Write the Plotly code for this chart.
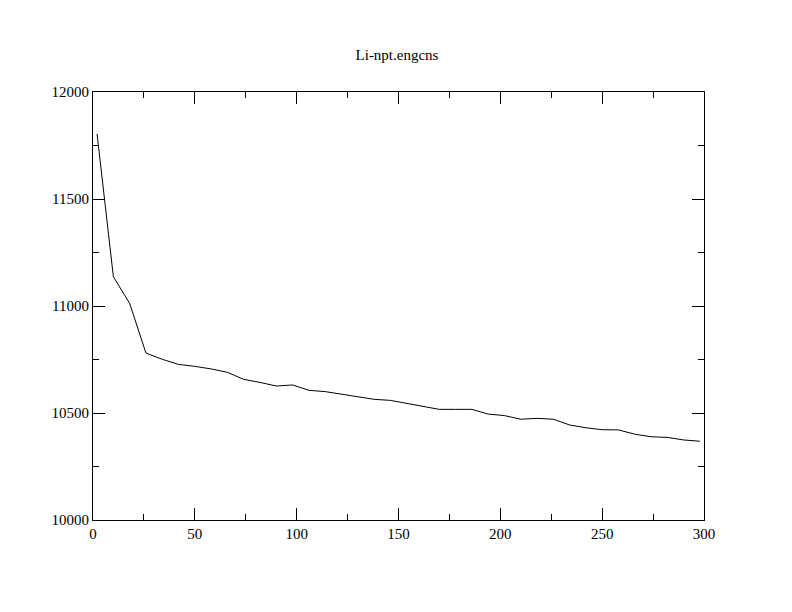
import plotly.graph_objects as go

x_vals = [2, 10, 18, 26, 34, 42, 50, 58, 66, 74, 82, 90, 98, 106, 114, 122, 130, 138, 146,
          154, 162, 170, 178, 186, 194, 202, 210, 218, 226, 234, 242, 250, 258, 266, 274,
          282, 290, 298]
y_vals = [11804, 11137, 11012, 10780, 10751, 10727, 10718, 10706, 10690, 10657, 10643,
          10626, 10631, 10606, 10600, 10589, 10577, 10564, 10559, 10544, 10529, 10517,
          10517, 10517, 10495, 10488, 10471, 10475, 10471, 10444, 10431, 10422, 10421,
          10401, 10389, 10386, 10374, 10368]
title_text = "Li-npt.engcns"

font_family = "Times New Roman"

fig = go.Figure()
fig.add_trace(go.Scatter(x=x_vals, y=y_vals, mode="lines",
                         line=dict(color="black", width=1), showlegend=False))

axis_common = dict(
    showline=True, linecolor="black", linewidth=1, mirror="allticks",
    ticks="inside", ticklen=12, tickwidth=1, tickcolor="black",
    showgrid=False, zeroline=False, tickformat="d",
    tickfont=dict(family=font_family, size=15, color="black"),
)

fig.update_xaxes(range=[0, 300], tick0=0, dtick=50,
                 minor=dict(ticks="inside", ticklen=6, dtick=25, tickcolor="black", tickwidth=1),
                 **axis_common)
fig.update_yaxes(range=[10000, 12000], tick0=10000, dtick=500,
                 minor=dict(ticks="inside", ticklen=6, dtick=250, tickcolor="black", tickwidth=1),
                 **axis_common)

fig.update_layout(
    width=792, height=612,
    margin=dict(l=85, r=96, t=84, b=100),
    paper_bgcolor="white", plot_bgcolor="white",
    title=dict(text=title_text, x=(397 - 8) / 792, xanchor="center", y=1 - 47 / 612,
               yanchor="middle",
               font=dict(family=font_family, size=15, color="black")),
)

fig.write_html("out.html")
